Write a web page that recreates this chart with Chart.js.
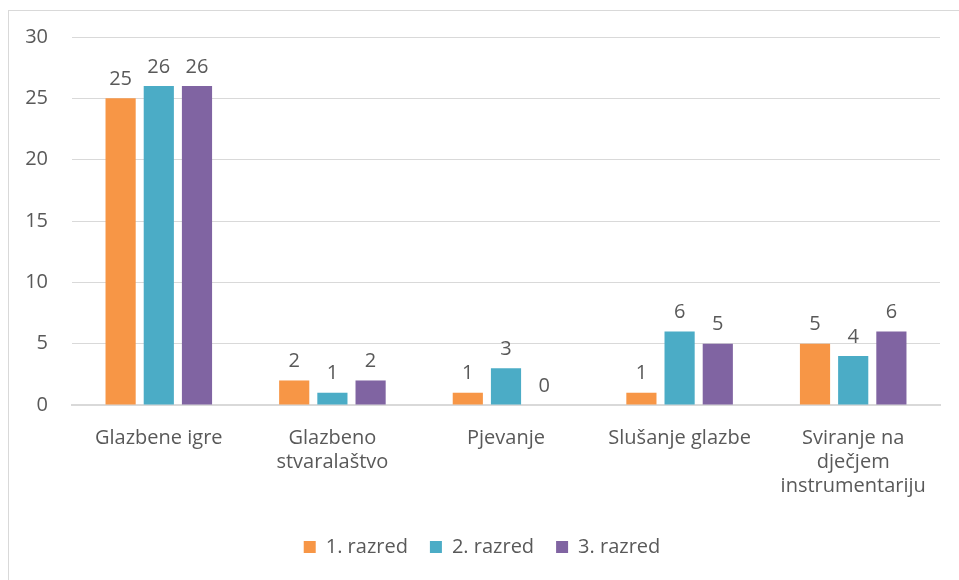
<!DOCTYPE html>
<html>
<head>
<meta charset="utf-8">
<script src="https://cdn.jsdelivr.net/npm/chart.js@4"></script>
<style>
    body { margin: 0; background: #fff; }
    #frame { position: absolute; left: 8px; top: 10px; width: 980px; height: 600px; border: 1px solid #d9d9d9; box-sizing: border-box; }
    #wrap { position: absolute; left: 0; top: 0; width: 959px; height: 580px; }
</style>
</head>
<body>
<div id="frame"></div>
<div id="wrap"><canvas id="barChart"></canvas></div>
<script>
const categories = [
    "Glazbene igre",
    ["Glazbeno", "stvaralaštvo"],
    "Pjevanje",
    "Slušanje glazbe",
    ["Sviranje na", "dječjem", "instrumentariju"]
];
const seriesNames = ["1. razred", "2. razred", "3. razred"];
const razred1 = [25, 2, 1, 1, 5];
const razred2 = [26, 1, 3, 6, 4];
const razred3 = [26, 2, 0, 5, 6];
const yTicks = [0, 5, 10, 15, 20, 25, 30];

const colors = ["#f79646", "#4bacc6", "#8064a2"];
const textColor = "#595959";
const fontFamily = "'Open Sans', Lato, sans-serif";
const fontSize = 20;

// vrijednosti iznad stupaca
const barValueLabels = {
    id: "barValueLabels",
    afterDatasetsDraw: (chart) => {
        const {ctx} = chart;
        ctx.save();
        ctx.font = `${fontSize}px ${fontFamily}`;
        ctx.fillStyle = textColor;
        ctx.textAlign = "center";
        ctx.textBaseline = "bottom";
        chart.data.datasets.forEach((ds, i) => {
            chart.getDatasetMeta(i).data.forEach((bar, j) => {
                ctx.fillText(ds.data[j], bar.x, bar.y - 9);
            });
        });
        ctx.restore();
    },
};

const ctx = document.getElementById("barChart").getContext("2d");
new Chart(ctx, {
    type: "bar",
    data: {
        labels: categories,
        datasets: [razred1, razred2, razred3].map((d, i) => ({
            label: seriesNames[i],
            data: d,
            backgroundColor: colors[i],
            categoryPercentage: 0.66,
            barPercentage: 0.79,
        })),
    },
    plugins: [barValueLabels],
    options: {
        responsive: true,
        maintainAspectRatio: false,
        animation: false,
        layout: {
            padding: {left: 24, right: 19, top: 37, bottom: 13},
        },
        plugins: {
            tooltip: {enabled: false},
            legend: {
                position: "bottom",
                labels: {
                    boxWidth: 12,
                    boxHeight: 12,
                    padding: 22,
                    color: textColor,
                    font: {family: fontFamily, size: fontSize},
                },
            },
        },
        scales: {
            x: {
                grid: {display: false},
                border: {color: "#d9d9d9", width: 2},
                afterFit: (axis) => {
                    axis.height += 4;
                },
                ticks: {
                    color: textColor,
                    font: {family: fontFamily, size: fontSize, lineHeight: 1.2},
                    padding: 13,
                    maxRotation: 0,
                    autoSkip: false,
                },
            },
            y: {
                min: 0,
                max: 30,
                afterBuildTicks: (axis) => {
                    axis.ticks = yTicks.map(v => ({value: v}));
                },
                afterFit: (axis) => {
                    axis.width = 48;
                },
                grid: {color: "#d9d9d9", drawTicks: false},
                border: {display: false},
                ticks: {
                    color: textColor,
                    font: {family: fontFamily, size: fontSize},
                    padding: 24,
                },
            },
        },
    },
});
</script>
</body>
</html>
